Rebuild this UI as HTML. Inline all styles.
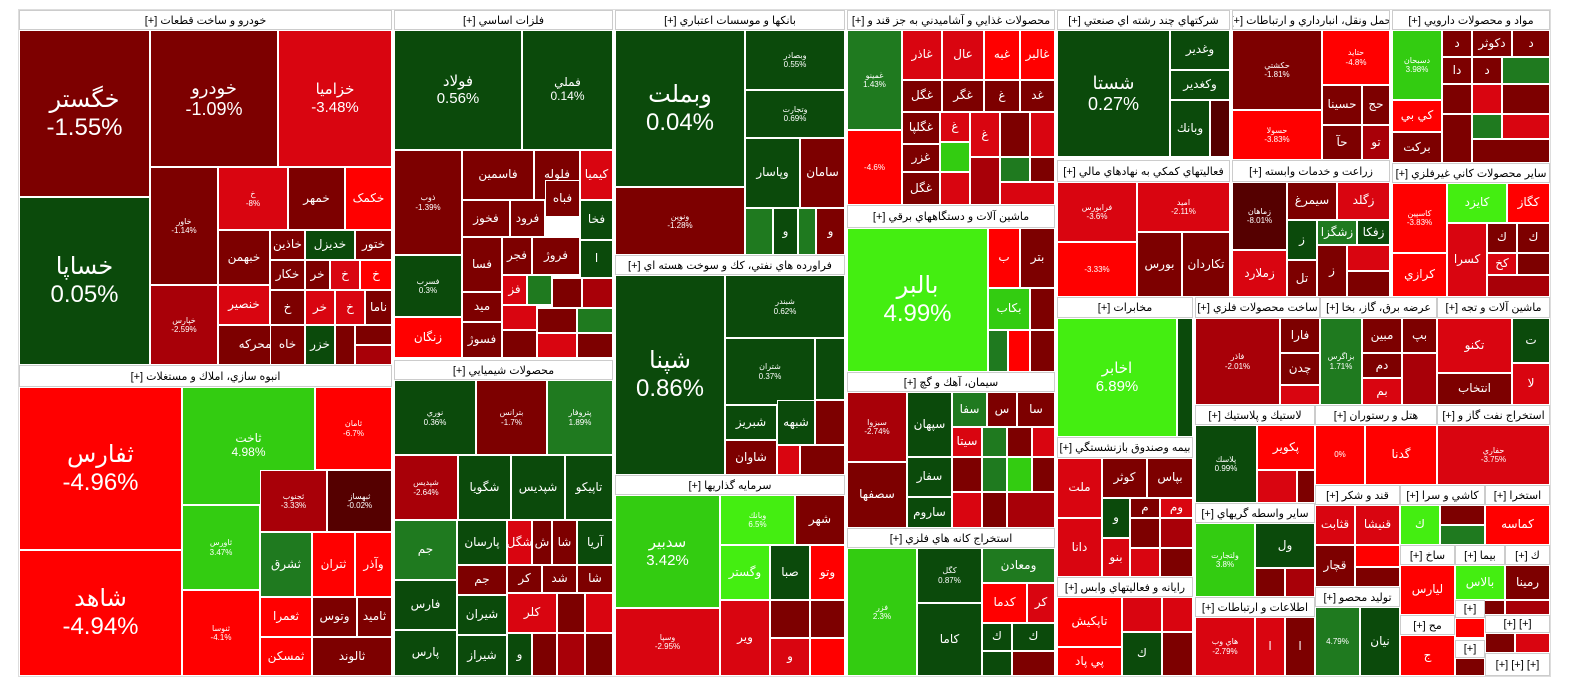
<!DOCTYPE html>
<html><head><meta charset="utf-8">
<style>
body{margin:0;width:1584px;height:698px;background:#fff;position:relative;overflow:hidden;font-family:"Liberation Sans","DejaVu Sans",sans-serif;}
.t{position:absolute;box-sizing:border-box;border:1px solid #fff;color:#fff;display:flex;align-items:center;justify-content:center;text-align:center;font-size:10px;line-height:1.15;overflow:hidden;direction:ltr;}
.h{position:absolute;box-sizing:border-box;background:#fff;border:1px solid #ccc;color:#000;font-size:11px;display:flex;align-items:center;justify-content:center;direction:rtl;overflow:hidden;white-space:nowrap;}
.dr{background:#7d0000}.mr{background:#a80008}.r{background:#d90510}.br{background:#ff0000}
.dg{background:#0b4a0b}.mg{background:#1f7a1f}.gg{background:#33cc11}.lg{background:#44ee11}.xr{background:#550000}
.s{font-size:8px}.b1{font-size:24px}.b2{font-size:18px}.b3{font-size:15px}.b4{font-size:12px}
</style></head><body>
<div style="position:absolute;left:18px;top:9px;width:1533px;height:668px;border:1px solid #ddd;box-sizing:border-box"></div>

<!-- Sector 1 -->
<div class="h" style="left:19px;top:10px;width:373px;height:20px">خودرو و ساخت قطعات [+]</div>
<div class="t dr b1" style="left:19px;top:30px;width:131px;height:167px">خگستر<br>-1.55%</div>
<div class="t dg b1" style="left:19px;top:197px;width:131px;height:168px">خساپا<br>0.05%</div>
<div class="t dr b2" style="left:150px;top:30px;width:128px;height:137px">خودرو<br>-1.09%</div>
<div class="t r b3" style="left:278px;top:30px;width:114px;height:137px">خزامیا<br>-3.48%</div>
<div class="t dr s" style="left:150px;top:167px;width:68px;height:118px">خاور<br>-1.14%</div>
<div class="t mr s" style="left:150px;top:285px;width:68px;height:80px">خپارس<br>-2.59%</div>
<div class="t r s" style="left:218px;top:167px;width:70px;height:63px">خ<br>-8%</div>
<div class="t dr b4" style="left:288px;top:167px;width:57px;height:63px">خمهر</div>
<div class="t br b4" style="left:345px;top:167px;width:47px;height:63px">خکمک</div>
<div class="t dr b4" style="left:218px;top:230px;width:52px;height:55px">خبهمن</div>
<div class="t dr b4" style="left:270px;top:230px;width:35px;height:30px">خاذين</div>
<div class="t dg b4" style="left:305px;top:230px;width:50px;height:30px">خديزل</div>
<div class="t dr b4" style="left:355px;top:230px;width:37px;height:30px">ختور</div>
<div class="t dr b4" style="left:270px;top:260px;width:35px;height:30px">خكار</div>
<div class="t dr b4" style="left:305px;top:260px;width:25px;height:30px">خر</div>
<div class="t r b4" style="left:330px;top:260px;width:30px;height:30px">خ</div>
<div class="t br b4" style="left:360px;top:260px;width:32px;height:30px">خ</div>
<div class="t r b4" style="left:218px;top:285px;width:52px;height:40px">خنصير</div>
<div class="t dr b4" style="left:270px;top:290px;width:35px;height:35px">خ</div>
<div class="t r b4" style="left:305px;top:290px;width:30px;height:35px">خر</div>
<div class="t r b4" style="left:335px;top:290px;width:30px;height:35px">خ</div>
<div class="t dr b4" style="left:365px;top:290px;width:27px;height:35px">ناما</div>
<div class="t dr b4" style="left:218px;top:325px;width:82px;height:40px">خمحركه</div>
<div class="t dr b4" style="left:270px;top:325px;width:35px;height:40px">خاه</div>
<div class="t dg b4" style="left:305px;top:325px;width:30px;height:40px">خزر</div>
<div class="t dr" style="left:335px;top:325px;width:20px;height:40px"></div>
<div class="t dr" style="left:355px;top:325px;width:37px;height:20px"></div>
<div class="t mr" style="left:355px;top:345px;width:37px;height:20px"></div>

<!-- Sector 2 -->
<div class="h" style="left:19px;top:365px;width:373px;height:22px">انبوه سازي، املاك و مستغلات [+]</div>
<div class="t br b1" style="left:19px;top:387px;width:163px;height:163px">ثفارس<br>-4.96%</div>
<div class="t br b1" style="left:19px;top:550px;width:163px;height:126px">شاهد<br>-4.94%</div>
<div class="t gg b4" style="left:182px;top:387px;width:133px;height:118px">ثاخت<br>4.98%</div>
<div class="t br s" style="left:315px;top:387px;width:77px;height:83px">ثامان<br>-6.7%</div>
<div class="t gg s" style="left:182px;top:505px;width:78px;height:85px">ثاورس<br>3.47%</div>
<div class="t br s" style="left:182px;top:590px;width:78px;height:86px">ثنوسا<br>-4.1%</div>
<div class="t mr s" style="left:260px;top:470px;width:67px;height:62px">ثجنوب<br>-3.33%</div>
<div class="t xr s" style="left:327px;top:470px;width:65px;height:62px">ثبهساز<br>-0.02%</div>
<div class="t mg b4" style="left:260px;top:532px;width:52px;height:65px">ثشرق</div>
<div class="t br b4" style="left:312px;top:532px;width:43px;height:65px">ثتران</div>
<div class="t br b4" style="left:355px;top:532px;width:37px;height:65px">وآذر</div>
<div class="t br b4" style="left:260px;top:597px;width:52px;height:40px">ثعمرا</div>
<div class="t dr b4" style="left:312px;top:597px;width:45px;height:40px">وتوس</div>
<div class="t dr b4" style="left:357px;top:597px;width:35px;height:40px">ثامید</div>
<div class="t br b4" style="left:260px;top:637px;width:52px;height:39px">ثمسكن</div>
<div class="t dr b4" style="left:312px;top:637px;width:80px;height:39px">ثالوند</div>

<!-- Sector 3 -->
<div class="h" style="left:394px;top:10px;width:219px;height:20px">فلزات اساسي [+]</div>
<div class="t dg b3" style="left:394px;top:30px;width:128px;height:120px">فولاد<br>0.56%</div>
<div class="t dg b4" style="left:522px;top:30px;width:91px;height:120px">فملي<br>0.14%</div>
<div class="t dr s" style="left:394px;top:150px;width:68px;height:105px">ذوب<br>-1.39%</div>
<div class="t dr b4" style="left:462px;top:150px;width:72px;height:50px">فاسمين</div>
<div class="t dr b4" style="left:534px;top:150px;width:46px;height:50px">فلوله</div>
<div class="t r b4" style="left:580px;top:150px;width:33px;height:50px">كيميا</div>
<div class="t dr b4" style="left:462px;top:200px;width:48px;height:37px">فخوز</div>
<div class="t dr b4" style="left:510px;top:200px;width:35px;height:37px">فرود</div>
<div class="t dr b4" style="left:545px;top:180px;width:35px;height:37px">فباه</div>
<div class="t dg b4" style="left:580px;top:200px;width:33px;height:40px">فخا</div>
<div class="t dr b4" style="left:462px;top:237px;width:40px;height:55px">فسا</div>
<div class="t dr b4" style="left:502px;top:237px;width:30px;height:38px">فجر</div>
<div class="t dr b4" style="left:532px;top:237px;width:48px;height:38px">فروژ</div>
<div class="t dg b4" style="left:580px;top:240px;width:33px;height:38px">ا</div>
<div class="t dg s" style="left:394px;top:255px;width:68px;height:62px">فسرب<br>0.3%</div>
<div class="t br b4" style="left:394px;top:317px;width:68px;height:41px">زنگان</div>
<div class="t dr b4" style="left:462px;top:292px;width:40px;height:30px">ميد</div>
<div class="t dr b4" style="left:462px;top:322px;width:40px;height:36px">فسوژ</div>
<div class="t r b4" style="left:502px;top:275px;width:25px;height:30px">فز</div>
<div class="t mg" style="left:527px;top:275px;width:25px;height:30px"></div>
<div class="t dr" style="left:552px;top:278px;width:30px;height:30px"></div>
<div class="t mr" style="left:582px;top:278px;width:31px;height:30px"></div>
<div class="t r" style="left:502px;top:305px;width:35px;height:25px"></div>
<div class="t dr" style="left:537px;top:308px;width:40px;height:25px"></div>
<div class="t mg" style="left:577px;top:308px;width:36px;height:25px"></div>
<div class="t dr" style="left:502px;top:330px;width:35px;height:28px"></div>
<div class="t r" style="left:537px;top:333px;width:40px;height:25px"></div>
<div class="t dr" style="left:577px;top:333px;width:36px;height:25px"></div>

<!-- Sector 4 -->
<div class="h" style="left:394px;top:360px;width:219px;height:20px">محصولات شيميايي [+]</div>
<div class="t dg s" style="left:394px;top:380px;width:82px;height:75px">نوري<br>0.36%</div>
<div class="t dr s" style="left:476px;top:380px;width:71px;height:75px">بترانس<br>-1.7%</div>
<div class="t mg s" style="left:547px;top:380px;width:66px;height:75px">پتروفار<br>1.89%</div>
<div class="t mr s" style="left:394px;top:455px;width:64px;height:65px">شپديس<br>-2.64%</div>
<div class="t dg b4" style="left:458px;top:455px;width:53px;height:65px">شگويا</div>
<div class="t dg b4" style="left:511px;top:455px;width:54px;height:65px">شپديس</div>
<div class="t dg b4" style="left:565px;top:455px;width:48px;height:65px">تاپيكو</div>
<div class="t mg b4" style="left:394px;top:520px;width:63px;height:60px">جم</div>
<div class="t dg b4" style="left:457px;top:520px;width:50px;height:45px">پارسان</div>
<div class="t r b4" style="left:507px;top:520px;width:25px;height:45px">شگل</div>
<div class="t dr b4" style="left:532px;top:520px;width:20px;height:45px">ش</div>
<div class="t dr b4" style="left:552px;top:520px;width:25px;height:45px">شا</div>
<div class="t dg b4" style="left:577px;top:520px;width:36px;height:45px">آريا</div>
<div class="t dg b4" style="left:394px;top:580px;width:63px;height:50px">فارس</div>
<div class="t dg b4" style="left:394px;top:630px;width:63px;height:46px">پارس</div>
<div class="t dr b4" style="left:457px;top:565px;width:50px;height:30px">جم</div>
<div class="t dg b4" style="left:457px;top:595px;width:50px;height:40px">شيران</div>
<div class="t dg b4" style="left:457px;top:635px;width:50px;height:41px">شيراز</div>
<div class="t dr b4" style="left:507px;top:565px;width:35px;height:28px">كر</div>
<div class="t dr b4" style="left:542px;top:565px;width:35px;height:28px">شد</div>
<div class="t dr b4" style="left:577px;top:565px;width:36px;height:28px">شا</div>
<div class="t r b4" style="left:507px;top:593px;width:50px;height:40px">كلر</div>
<div class="t dr" style="left:557px;top:593px;width:28px;height:40px"></div>
<div class="t r" style="left:585px;top:593px;width:28px;height:40px"></div>
<div class="t dg b4" style="left:507px;top:633px;width:25px;height:43px">و</div>
<div class="t dr" style="left:532px;top:633px;width:25px;height:43px"></div>
<div class="t mr" style="left:557px;top:633px;width:28px;height:43px"></div>
<div class="t dr" style="left:585px;top:633px;width:28px;height:43px"></div>

<!-- Sector 5 -->
<div class="h" style="left:615px;top:10px;width:230px;height:20px">بانكها و موسسات اعتباري [+]</div>
<div class="t dg b1" style="left:615px;top:30px;width:130px;height:157px">وبملت<br>0.04%</div>
<div class="t dr s" style="left:615px;top:187px;width:130px;height:68px">ونوين<br>-1.28%</div>
<div class="t dg s" style="left:745px;top:30px;width:100px;height:60px">وبصادر<br>0.55%</div>
<div class="t dg s" style="left:745px;top:90px;width:100px;height:48px">وتجارت<br>0.69%</div>
<div class="t dg b4" style="left:745px;top:138px;width:55px;height:70px">وپاسار</div>
<div class="t dr b4" style="left:800px;top:138px;width:45px;height:70px">سامان</div>
<div class="t mg" style="left:745px;top:208px;width:28px;height:47px"></div>
<div class="t dg b4" style="left:773px;top:208px;width:25px;height:47px">و</div>
<div class="t mg" style="left:798px;top:208px;width:18px;height:47px"></div>
<div class="t dr b4" style="left:816px;top:208px;width:29px;height:47px">و</div>

<!-- Sector 6 -->
<div class="h" style="left:615px;top:255px;width:230px;height:20px">فراورده هاي نفتي، كك و سوخت هسته اي [+]</div>
<div class="t dg b1" style="left:615px;top:275px;width:110px;height:200px">شپنا<br>0.86%</div>
<div class="t dg s" style="left:725px;top:275px;width:120px;height:63px">شبندر<br>0.62%</div>
<div class="t dg s" style="left:725px;top:338px;width:90px;height:67px">شتران<br>0.37%</div>
<div class="t dg" style="left:815px;top:338px;width:30px;height:62px"></div>
<div class="t dg b4" style="left:725px;top:405px;width:52px;height:35px">شبريز</div>
<div class="t dg b4" style="left:777px;top:400px;width:38px;height:45px">شبهه</div>
<div class="t dr" style="left:815px;top:400px;width:30px;height:45px"></div>
<div class="t dr b4" style="left:725px;top:440px;width:52px;height:35px">شاوان</div>
<div class="t r" style="left:777px;top:445px;width:23px;height:30px"></div>
<div class="t dr" style="left:800px;top:445px;width:45px;height:30px"></div>

<!-- Sector 7 -->
<div class="h" style="left:615px;top:475px;width:230px;height:20px">سرمايه گذاريها [+]</div>
<div class="t gg b3" style="left:615px;top:495px;width:105px;height:113px">سدبير<br>3.42%</div>
<div class="t r s" style="left:615px;top:608px;width:105px;height:68px">وسپا<br>-2.95%</div>
<div class="t lg s" style="left:720px;top:495px;width:75px;height:50px">وبانك<br>6.5%</div>
<div class="t dr b4" style="left:795px;top:495px;width:50px;height:50px">شهر</div>
<div class="t lg b4" style="left:720px;top:545px;width:50px;height:55px">وگستر</div>
<div class="t dg b4" style="left:770px;top:545px;width:40px;height:55px">صبا</div>
<div class="t br b4" style="left:810px;top:545px;width:35px;height:55px">وتو</div>
<div class="t r b4" style="left:720px;top:600px;width:50px;height:76px">وير</div>
<div class="t dr" style="left:770px;top:600px;width:40px;height:38px"></div>
<div class="t dr" style="left:810px;top:600px;width:35px;height:38px"></div>
<div class="t r b4" style="left:770px;top:638px;width:40px;height:38px">و</div>
<div class="t br" style="left:810px;top:638px;width:35px;height:38px"></div>

<!-- Sector 8 -->
<div class="h" style="left:847px;top:10px;width:208px;height:20px">محصولات غذايي و آشاميدني به جز قند و [+]</div>
<div class="t mg s" style="left:847px;top:30px;width:55px;height:100px">غمينو<br>1.43%</div>
<div class="t br s" style="left:847px;top:130px;width:55px;height:75px">-4.6%</div>
<div class="t r b4" style="left:902px;top:30px;width:40px;height:50px">غاذر</div>
<div class="t r b4" style="left:942px;top:30px;width:42px;height:50px">عال</div>
<div class="t br b4" style="left:984px;top:30px;width:36px;height:50px">غبه</div>
<div class="t br b4" style="left:1020px;top:30px;width:35px;height:50px">غالبر</div>
<div class="t dr b4" style="left:902px;top:80px;width:40px;height:32px">غگل</div>
<div class="t dr b4" style="left:942px;top:80px;width:42px;height:32px">غگر</div>
<div class="t dr b4" style="left:984px;top:80px;width:36px;height:32px">غ</div>
<div class="t dr b4" style="left:1020px;top:80px;width:35px;height:32px">غد</div>
<div class="t dr b4" style="left:902px;top:112px;width:38px;height:32px">غگلپا</div>
<div class="t dr b4" style="left:902px;top:144px;width:38px;height:28px">غزر</div>
<div class="t dr b4" style="left:902px;top:172px;width:38px;height:33px">غگل</div>
<div class="t r b4" style="left:940px;top:112px;width:30px;height:30px">غ</div>
<div class="t gg" style="left:940px;top:142px;width:30px;height:30px"></div>
<div class="t r" style="left:940px;top:172px;width:30px;height:33px"></div>
<div class="t r b4" style="left:970px;top:112px;width:30px;height:45px">غ</div>
<div class="t mr" style="left:970px;top:157px;width:30px;height:48px"></div>
<div class="t dr" style="left:1000px;top:112px;width:30px;height:45px"></div>
<div class="t r" style="left:1030px;top:112px;width:25px;height:45px"></div>
<div class="t mg" style="left:1000px;top:157px;width:30px;height:25px"></div>
<div class="t dr" style="left:1030px;top:157px;width:25px;height:25px"></div>
<div class="t r" style="left:1000px;top:182px;width:55px;height:23px"></div>

<!-- Sector 9 -->
<div class="h" style="left:847px;top:205px;width:208px;height:23px">ماشين آلات و دستگاههاي برقي [+]</div>
<div class="t lg b1" style="left:847px;top:228px;width:141px;height:144px">بالبر<br>4.99%</div>
<div class="t br b4" style="left:988px;top:228px;width:32px;height:60px">ب</div>
<div class="t dr b4" style="left:1020px;top:228px;width:35px;height:60px">بتر</div>
<div class="t gg b4" style="left:988px;top:288px;width:42px;height:42px">بكاب</div>
<div class="t dr" style="left:1030px;top:288px;width:25px;height:42px"></div>
<div class="t mg" style="left:988px;top:330px;width:20px;height:42px"></div>
<div class="t br" style="left:1008px;top:330px;width:22px;height:42px"></div>
<div class="t dr" style="left:1030px;top:330px;width:25px;height:42px"></div>

<!-- Sector 10 -->
<div class="h" style="left:847px;top:372px;width:208px;height:20px">سيمان، آهك و گچ [+]</div>
<div class="t mr s" style="left:847px;top:392px;width:60px;height:70px">سبزوا<br>-2.74%</div>
<div class="t dr b4" style="left:847px;top:462px;width:60px;height:66px">سصفها</div>
<div class="t dg b4" style="left:907px;top:392px;width:45px;height:65px">سپهان</div>
<div class="t dg b4" style="left:907px;top:457px;width:45px;height:40px">سفار</div>
<div class="t dg b4" style="left:907px;top:497px;width:45px;height:31px">ساروم</div>
<div class="t mg b4" style="left:952px;top:392px;width:35px;height:35px">سفا</div>
<div class="t dr b4" style="left:987px;top:392px;width:30px;height:35px">س</div>
<div class="t dr b4" style="left:1017px;top:392px;width:38px;height:35px">سا</div>
<div class="t r b4" style="left:952px;top:427px;width:30px;height:30px">سيتا</div>
<div class="t mg" style="left:982px;top:427px;width:25px;height:30px"></div>
<div class="t dr" style="left:1007px;top:427px;width:25px;height:30px"></div>
<div class="t r" style="left:1032px;top:427px;width:23px;height:30px"></div>
<div class="t dr" style="left:952px;top:457px;width:30px;height:35px"></div>
<div class="t mg" style="left:982px;top:457px;width:25px;height:35px"></div>
<div class="t gg" style="left:1007px;top:457px;width:25px;height:35px"></div>
<div class="t dr" style="left:1032px;top:457px;width:23px;height:35px"></div>
<div class="t r" style="left:952px;top:492px;width:30px;height:36px"></div>
<div class="t dr" style="left:982px;top:492px;width:25px;height:36px"></div>
<div class="t mr" style="left:1007px;top:492px;width:48px;height:36px"></div>

<!-- Sector 11 -->
<div class="h" style="left:847px;top:528px;width:208px;height:20px">استخراج كانه هاي فلزي [+]</div>
<div class="t gg s" style="left:847px;top:548px;width:70px;height:128px">فزر<br>2.3%</div>
<div class="t dg s" style="left:917px;top:548px;width:65px;height:55px">كگل<br>0.87%</div>
<div class="t dg b4" style="left:917px;top:603px;width:65px;height:73px">كاما</div>
<div class="t mg b4" style="left:982px;top:548px;width:73px;height:35px">ومعادن</div>
<div class="t br b4" style="left:982px;top:583px;width:45px;height:40px">كدما</div>
<div class="t r b4" style="left:1027px;top:583px;width:28px;height:40px">كر</div>
<div class="t dg b4" style="left:982px;top:623px;width:30px;height:28px">ك</div>
<div class="t dg b4" style="left:1012px;top:623px;width:43px;height:28px">ك</div>
<div class="t dg" style="left:982px;top:651px;width:30px;height:25px"></div>
<div class="t dr" style="left:1012px;top:651px;width:43px;height:25px"></div>

<!-- Sector 12 -->
<div class="h" style="left:1057px;top:10px;width:173px;height:20px">شركتهاي چند رشته اي صنعتي [+]</div>
<div class="t dg b2" style="left:1057px;top:30px;width:113px;height:127px">شستا<br>0.27%</div>
<div class="t dg b4" style="left:1170px;top:30px;width:60px;height:40px">وغدير</div>
<div class="t dg b4" style="left:1170px;top:70px;width:60px;height:30px">وكغدير</div>
<div class="t dg b4" style="left:1170px;top:100px;width:40px;height:57px">وبانك</div>
<div class="t xr" style="left:1210px;top:100px;width:20px;height:57px"></div>

<!-- Sector 13 -->
<div class="h" style="left:1057px;top:160px;width:173px;height:22px">فعاليتهاي كمكي به نهادهاي مالي [+]</div>
<div class="t r s" style="left:1057px;top:182px;width:80px;height:60px">فرابورس<br>-3.6%</div>
<div class="t br s" style="left:1057px;top:242px;width:80px;height:55px">-3.33%</div>
<div class="t r s" style="left:1137px;top:182px;width:93px;height:50px">اميد<br>-2.11%</div>
<div class="t dr b4" style="left:1137px;top:232px;width:45px;height:65px">بورس</div>
<div class="t dr b4" style="left:1182px;top:232px;width:48px;height:65px">تكاردان</div>

<!-- Sector 14 -->
<div class="h" style="left:1057px;top:297px;width:136px;height:21px">مخابرات [+]</div>
<div class="t lg b3" style="left:1057px;top:318px;width:120px;height:119px">اخابر<br>6.89%</div>
<div class="t dg" style="left:1177px;top:318px;width:16px;height:119px"></div>

<!-- Sector 15 -->
<div class="h" style="left:1057px;top:437px;width:136px;height:21px">بيمه وصندوق بازنشستگي [+]</div>
<div class="t r b4" style="left:1057px;top:458px;width:45px;height:60px">ملت</div>
<div class="t r b4" style="left:1057px;top:518px;width:45px;height:59px">دانا</div>
<div class="t dr b4" style="left:1102px;top:458px;width:45px;height:40px">كوثر</div>
<div class="t dr b4" style="left:1147px;top:458px;width:46px;height:40px">بپاس</div>
<div class="t dg b4" style="left:1102px;top:498px;width:28px;height:40px">و</div>
<div class="t dr b4" style="left:1130px;top:498px;width:30px;height:20px">م</div>
<div class="t r b4" style="left:1160px;top:498px;width:33px;height:20px">وم</div>
<div class="t r b4" style="left:1102px;top:538px;width:28px;height:39px">بنو</div>
<div class="t dr" style="left:1130px;top:518px;width:30px;height:30px"></div>
<div class="t mr" style="left:1160px;top:518px;width:33px;height:30px"></div>
<div class="t r" style="left:1130px;top:548px;width:30px;height:29px"></div>
<div class="t dr" style="left:1160px;top:548px;width:33px;height:29px"></div>

<!-- Sector 16 -->
<div class="h" style="left:1057px;top:577px;width:136px;height:20px">رايانه و فعاليتهاي وابس [+]</div>
<div class="t br b4" style="left:1057px;top:597px;width:65px;height:50px">تاپكيش</div>
<div class="t br b4" style="left:1057px;top:647px;width:65px;height:29px">پي پاد</div>
<div class="t r" style="left:1122px;top:597px;width:40px;height:35px"></div>
<div class="t r" style="left:1162px;top:597px;width:31px;height:35px"></div>
<div class="t dg b4" style="left:1122px;top:632px;width:40px;height:44px">ك</div>
<div class="t dr" style="left:1162px;top:632px;width:31px;height:44px"></div>

<!-- Sector 17 -->
<div class="h" style="left:1232px;top:10px;width:158px;height:20px">حمل ونقل، انبارداري و ارتباطات [+]</div>
<div class="t dr s" style="left:1232px;top:30px;width:90px;height:80px">حكشتي<br>-1.81%</div>
<div class="t br s" style="left:1232px;top:110px;width:90px;height:50px">حسولا<br>-3.83%</div>
<div class="t br s" style="left:1322px;top:30px;width:68px;height:55px">حتاید<br>-4.8%</div>
<div class="t dr b4" style="left:1322px;top:85px;width:40px;height:40px">حسينا</div>
<div class="t dr b4" style="left:1362px;top:85px;width:28px;height:40px">حج</div>
<div class="t dr b4" style="left:1322px;top:125px;width:40px;height:35px">حآ</div>
<div class="t mr b4" style="left:1362px;top:125px;width:28px;height:35px">تو</div>

<!-- Sector 18 -->
<div class="h" style="left:1392px;top:10px;width:158px;height:20px">مواد و محصولات دارويي [+]</div>
<div class="t gg s" style="left:1392px;top:30px;width:50px;height:70px">دسبحان<br>3.98%</div>
<div class="t br b4" style="left:1392px;top:100px;width:50px;height:32px">كي بي</div>
<div class="t dr b4" style="left:1392px;top:132px;width:50px;height:31px">بركت</div>
<div class="t dr b4" style="left:1442px;top:30px;width:30px;height:27px">د</div>
<div class="t dr b4" style="left:1472px;top:30px;width:40px;height:27px">دكوثر</div>
<div class="t dr b4" style="left:1512px;top:30px;width:38px;height:27px">د</div>
<div class="t dr b4" style="left:1442px;top:57px;width:30px;height:27px">دا</div>
<div class="t dr b4" style="left:1472px;top:57px;width:30px;height:27px">د</div>
<div class="t mg" style="left:1502px;top:57px;width:48px;height:27px"></div>
<div class="t dr" style="left:1442px;top:84px;width:30px;height:30px"></div>
<div class="t r" style="left:1472px;top:84px;width:30px;height:30px"></div>
<div class="t dr" style="left:1502px;top:84px;width:48px;height:30px"></div>
<div class="t dr" style="left:1442px;top:114px;width:30px;height:49px"></div>
<div class="t mg" style="left:1472px;top:114px;width:30px;height:25px"></div>
<div class="t r" style="left:1502px;top:114px;width:48px;height:25px"></div>
<div class="t dr" style="left:1472px;top:139px;width:78px;height:24px"></div>

<!-- Sector 19 -->
<div class="h" style="left:1232px;top:160px;width:158px;height:22px">زراعت و خدمات وابسته [+]</div>
<div class="t xr s" style="left:1232px;top:182px;width:55px;height:68px">زماهان<br>-8.01%</div>
<div class="t r b4" style="left:1232px;top:250px;width:55px;height:47px">زملارد</div>
<div class="t dr b4" style="left:1287px;top:182px;width:50px;height:38px">سيمرغ</div>
<div class="t r b4" style="left:1337px;top:182px;width:53px;height:38px">زگلد</div>
<div class="t dg b4" style="left:1287px;top:220px;width:30px;height:40px">ز</div>
<div class="t mg b4" style="left:1317px;top:220px;width:40px;height:25px">زشگزا</div>
<div class="t dg b4" style="left:1357px;top:220px;width:33px;height:25px">زفكا</div>
<div class="t dr b4" style="left:1287px;top:260px;width:30px;height:37px">تل</div>
<div class="t dr b4" style="left:1317px;top:245px;width:30px;height:52px">ز</div>
<div class="t r" style="left:1347px;top:245px;width:43px;height:26px"></div>
<div class="t dr" style="left:1347px;top:271px;width:43px;height:26px"></div>

<!-- Sector 20 -->
<div class="h" style="left:1392px;top:163px;width:158px;height:20px">ساير محصولات كاني غيرفلزي [+]</div>
<div class="t br s" style="left:1392px;top:183px;width:55px;height:70px">كاسپين<br>-3.83%</div>
<div class="t br b4" style="left:1392px;top:253px;width:55px;height:44px">كرازي</div>
<div class="t lg b4" style="left:1447px;top:183px;width:60px;height:40px">كايزد</div>
<div class="t br b4" style="left:1507px;top:183px;width:43px;height:40px">كگاز</div>
<div class="t r b4" style="left:1447px;top:223px;width:40px;height:74px">كسرا</div>
<div class="t dr b4" style="left:1487px;top:223px;width:30px;height:30px">ك</div>
<div class="t dr b4" style="left:1517px;top:223px;width:33px;height:30px">ك</div>
<div class="t r b4" style="left:1487px;top:253px;width:30px;height:22px">كخ</div>
<div class="t dr" style="left:1517px;top:253px;width:33px;height:22px"></div>
<div class="t mr" style="left:1487px;top:275px;width:63px;height:22px"></div>

<!-- Sector 21 -->
<div class="h" style="left:1195px;top:297px;width:125px;height:21px">ساخت محصولات فلزي [+]</div>
<div class="t mr s" style="left:1195px;top:318px;width:85px;height:87px">فاذر<br>-2.01%</div>
<div class="t dr b4" style="left:1280px;top:318px;width:40px;height:35px">فارا</div>
<div class="t dr b4" style="left:1280px;top:353px;width:40px;height:32px">چدن</div>
<div class="t r" style="left:1280px;top:385px;width:40px;height:20px"></div>

<!-- Sector 22 -->
<div class="h" style="left:1320px;top:297px;width:117px;height:21px">عرضه برق، گاز، بخا [+]</div>
<div class="t mg s" style="left:1320px;top:318px;width:42px;height:87px">بزاگرس<br>1.71%</div>
<div class="t dr b4" style="left:1362px;top:318px;width:40px;height:35px">مبين</div>
<div class="t dr b4" style="left:1402px;top:318px;width:35px;height:35px">بپ</div>
<div class="t dr b4" style="left:1362px;top:353px;width:40px;height:25px">دم</div>
<div class="t r b4" style="left:1362px;top:378px;width:40px;height:27px">بم</div>
<div class="t mr" style="left:1402px;top:353px;width:35px;height:52px"></div>

<!-- Sector 23 -->
<div class="h" style="left:1437px;top:297px;width:113px;height:21px">ماشين آلات و تجه [+]</div>
<div class="t r b4" style="left:1437px;top:318px;width:75px;height:55px">تكنو</div>
<div class="t dr b4" style="left:1437px;top:373px;width:75px;height:32px">انتخاب</div>
<div class="t dg b4" style="left:1512px;top:318px;width:38px;height:45px">ت</div>
<div class="t r b4" style="left:1512px;top:363px;width:38px;height:42px">لا</div>

<!-- Sector 24 -->
<div class="h" style="left:1195px;top:405px;width:120px;height:20px">لاستيك و پلاستيك [+]</div>
<div class="t dg s" style="left:1195px;top:425px;width:62px;height:78px">پلاسك<br>0.99%</div>
<div class="t br b4" style="left:1257px;top:425px;width:58px;height:45px">پكوير</div>
<div class="t r" style="left:1257px;top:470px;width:40px;height:33px"></div>
<div class="t dr" style="left:1297px;top:470px;width:18px;height:33px"></div>

<!-- Sector 25 -->
<div class="h" style="left:1315px;top:405px;width:122px;height:20px">هتل و رستوران [+]</div>
<div class="t br s" style="left:1315px;top:425px;width:50px;height:60px">0%</div>
<div class="t br b4" style="left:1365px;top:425px;width:72px;height:60px">گدنا</div>

<!-- Sector 26 -->
<div class="h" style="left:1437px;top:405px;width:113px;height:20px">استخراج نفت گاز و [+]</div>
<div class="t r s" style="left:1437px;top:425px;width:113px;height:60px">حفاري<br>-3.75%</div>

<!-- Sector 27 -->
<div class="h" style="left:1195px;top:503px;width:120px;height:20px">ساير واسطه گريهاي [+]</div>
<div class="t gg s" style="left:1195px;top:523px;width:60px;height:74px">ولتجارت<br>3.8%</div>
<div class="t dg b4" style="left:1255px;top:523px;width:60px;height:45px">ول</div>
<div class="t dr" style="left:1255px;top:568px;width:30px;height:29px"></div>
<div class="t mr" style="left:1285px;top:568px;width:30px;height:29px"></div>

<!-- Sector 28 -->
<div class="h" style="left:1195px;top:597px;width:120px;height:20px">اطلاعات و ارتباطات [+]</div>
<div class="t r s" style="left:1195px;top:617px;width:60px;height:59px">هاي وب<br>-2.79%</div>
<div class="t r b4" style="left:1255px;top:617px;width:30px;height:59px">ا</div>
<div class="t dr b4" style="left:1285px;top:617px;width:30px;height:59px">ا</div>

<!-- Sector 29 -->
<div class="h" style="left:1315px;top:485px;width:85px;height:20px">قند و شكر [+]</div>
<div class="t r b4" style="left:1315px;top:505px;width:40px;height:40px">قثابت</div>
<div class="t r b4" style="left:1355px;top:505px;width:45px;height:40px">قنيشا</div>
<div class="t dr b4" style="left:1315px;top:545px;width:40px;height:42px">قچار</div>
<div class="t br" style="left:1355px;top:545px;width:45px;height:22px"></div>
<div class="t dr" style="left:1355px;top:567px;width:45px;height:20px"></div>

<!-- Sector 31 -->
<div class="h" style="left:1315px;top:587px;width:85px;height:20px">توليد محصو [+]</div>
<div class="t mg s" style="left:1315px;top:607px;width:45px;height:69px">4.79%</div>
<div class="t dg b4" style="left:1360px;top:607px;width:40px;height:69px">نيان</div>

<!-- Sector 30 etc -->
<div class="h" style="left:1400px;top:485px;width:85px;height:20px">كاشي و سرا [+]</div>
<div class="t lg b4" style="left:1400px;top:505px;width:40px;height:40px">ك</div>
<div class="t dr" style="left:1440px;top:505px;width:45px;height:20px"></div>
<div class="t mg" style="left:1440px;top:525px;width:45px;height:20px"></div>
<div class="h" style="left:1485px;top:485px;width:65px;height:20px">استخرا [+]</div>
<div class="t br b4" style="left:1485px;top:505px;width:65px;height:40px">كماسه</div>
<div class="h" style="left:1400px;top:545px;width:55px;height:20px">ساخ [+]</div>
<div class="t br b4" style="left:1400px;top:565px;width:55px;height:50px">ليارس</div>
<div class="h" style="left:1455px;top:545px;width:50px;height:20px">بيما [+]</div>
<div class="t lg b4" style="left:1455px;top:565px;width:50px;height:35px">بالاس</div>
<div class="t dr" style="left:1455px;top:600px;width:50px;height:15px"></div>
<div class="h" style="left:1505px;top:545px;width:45px;height:20px">ك [+]</div>
<div class="t dr b4" style="left:1505px;top:565px;width:45px;height:35px">رمينا</div>
<div class="t mr" style="left:1505px;top:600px;width:45px;height:15px"></div>
<div class="h" style="left:1400px;top:615px;width:55px;height:20px">مح [+]</div>
<div class="t br b4" style="left:1400px;top:635px;width:55px;height:41px">ج</div>
<div class="h" style="left:1455px;top:600px;width:30px;height:18px">[+]</div>
<div class="t br" style="left:1455px;top:618px;width:30px;height:20px"></div>
<div class="h" style="left:1455px;top:640px;width:30px;height:18px">[+]</div>
<div class="t dr" style="left:1455px;top:658px;width:30px;height:18px"></div>
<div class="h" style="left:1485px;top:615px;width:65px;height:18px">[+] [+]</div>
<div class="t dr" style="left:1485px;top:633px;width:30px;height:20px"></div>
<div class="t r" style="left:1515px;top:633px;width:35px;height:20px"></div>
<div class="h" style="left:1485px;top:653px;width:65px;height:23px">[+] [+] [+]</div>
</body></html>
